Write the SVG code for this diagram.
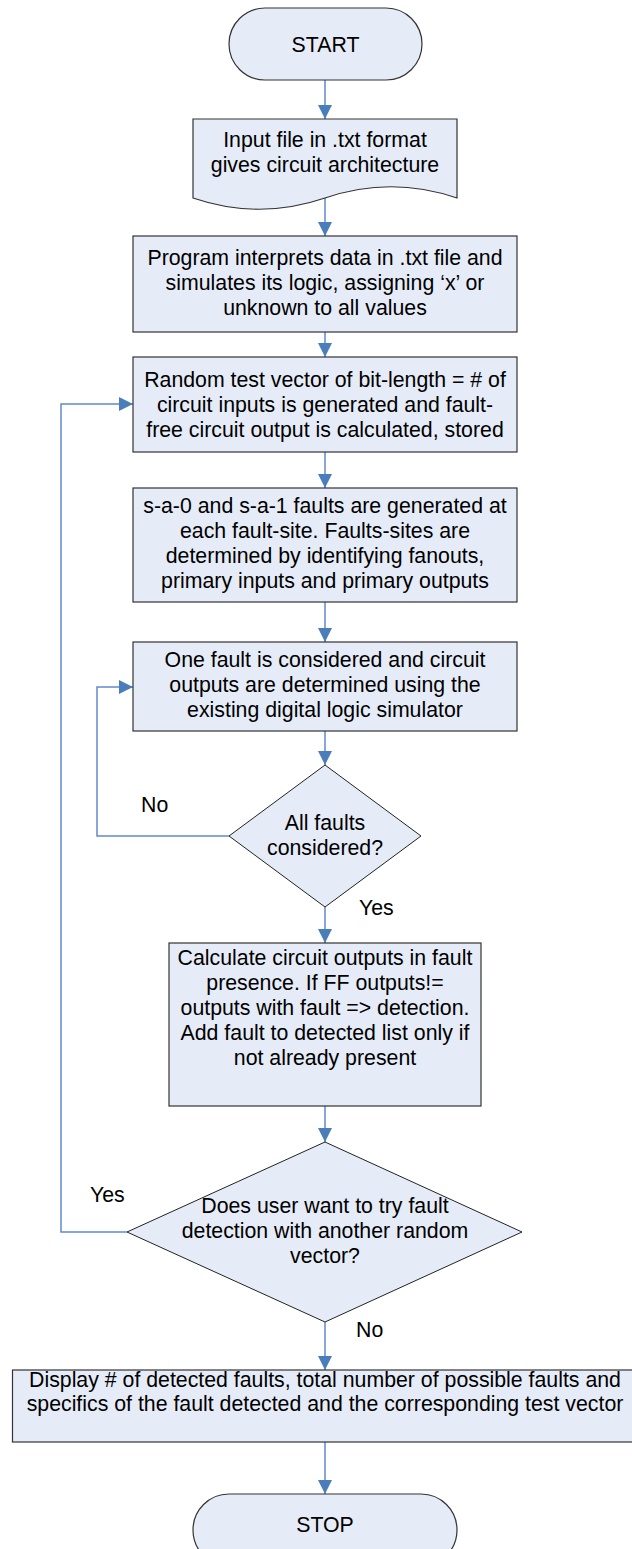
<svg xmlns="http://www.w3.org/2000/svg" width="632" height="1549" viewBox="0 0 632 1549">
<style>
.shape{fill:#E6ECF7;stroke:#333;stroke-width:1.2}
.t{font-family:"Liberation Sans",Arial,sans-serif;font-size:21.3px;fill:#000;text-anchor:middle}
.lbl{font-family:"Liberation Sans",Arial,sans-serif;font-size:21.3px;fill:#000}
.c{fill:none;stroke:#5F8ACB;stroke-width:1.5}
</style>
<defs>
<marker id="ah" markerUnits="userSpaceOnUse" markerWidth="14" markerHeight="14" refX="14" refY="7" orient="auto">
<path d="M0,0 L14,7 L0,14 Z" fill="#4A7EBB"/>
</marker>
</defs>
<rect width="632" height="1549" fill="#fff"/>
<g id="connectors">
<line class="c" x1="325" y1="80" x2="325" y2="119" marker-end="url(#ah)"/>
<line class="c" x1="325" y1="198" x2="325" y2="236" marker-end="url(#ah)"/>
<line class="c" x1="325" y1="332" x2="325" y2="357" marker-end="url(#ah)"/>
<line class="c" x1="325" y1="452" x2="325" y2="488" marker-end="url(#ah)"/>
<line class="c" x1="325" y1="602" x2="325" y2="642" marker-end="url(#ah)"/>
<line class="c" x1="325" y1="731" x2="325" y2="765" marker-end="url(#ah)"/>
<line class="c" x1="325" y1="907" x2="325" y2="943" marker-end="url(#ah)"/>
<line class="c" x1="325" y1="1106" x2="325" y2="1142" marker-end="url(#ah)"/>
<line class="c" x1="325" y1="1322" x2="325" y2="1370" marker-end="url(#ah)"/>
<line class="c" x1="325" y1="1442" x2="325" y2="1494" marker-end="url(#ah)"/>
<polyline class="c" points="229,836 97,836 97,687 133,687" marker-end="url(#ah)"/>
<polyline class="c" points="127,1232 61,1232 61,404 133,404" marker-end="url(#ah)"/>
<text class="lbl" x="141" y="812">No</text>
<text class="lbl" x="359" y="915">Yes</text>
<text class="lbl" x="90" y="1202">Yes</text>
<text class="lbl" x="356" y="1337">No</text>
</g>
<g id="start">
<rect class="shape" x="229" y="8" width="193" height="72" rx="36"/>
<text class="t" x="325.5" y="52">START</text>
</g>
<g id="input">
<path class="shape" d="M193,119 H457 V198 C413,183 369,183 325,198 C281,213 237,213 193,198 Z"/>
<text class="t" x="325" y="147">Input file in .txt format</text>
<text class="t" x="325" y="172">gives circuit architecture</text>
</g>
<g id="interpret">
<rect class="shape" x="133" y="236" width="384" height="96"/>
<text class="t" x="325" y="265">Program interprets data in .txt file and</text>
<text class="t" x="325" y="290">simulates its logic, assigning ‘x’ or</text>
<text class="t" x="325" y="315">unknown to all values</text>
</g>
<g id="random">
<rect class="shape" x="133" y="357" width="384" height="95"/>
<text class="t" x="325" y="387">Random test vector of bit-length = # of</text>
<text class="t" x="325" y="412">circuit inputs is generated and fault-</text>
<text class="t" x="325" y="437">free circuit output is calculated, stored</text>
</g>
<g id="faults">
<rect class="shape" x="133" y="488" width="384" height="114"/>
<text class="t" x="325" y="513">s-a-0 and s-a-1 faults are generated at</text>
<text class="t" x="325" y="538">each fault-site. Faults-sites are</text>
<text class="t" x="325" y="563">determined by identifying fanouts,</text>
<text class="t" x="325" y="588">primary inputs and primary outputs</text>
</g>
<g id="onefault">
<rect class="shape" x="133" y="642" width="384" height="89"/>
<text class="t" x="325" y="667">One fault is considered and circuit</text>
<text class="t" x="325" y="692">outputs are determined using the</text>
<text class="t" x="325" y="717">existing digital logic simulator</text>
</g>
<g id="allfaults">
<polygon class="shape" points="325,765 421,836 325,907 229,836" style="stroke:#222;stroke-width:1"/>
<text class="t" x="325" y="830">All faults</text>
<text class="t" x="325" y="855">considered?</text>
</g>
<g id="calculate">
<rect class="shape" x="169" y="943" width="312" height="163"/>
<text class="t" x="325" y="965">Calculate circuit outputs in fault</text>
<text class="t" x="325" y="990">presence. If FF outputs!=</text>
<text class="t" x="325" y="1015">outputs with fault =&gt; detection.</text>
<text class="t" x="325" y="1040">Add fault to detected list only if</text>
<text class="t" x="325" y="1065">not already present</text>
</g>
<g id="again">
<polygon class="shape" points="325,1142 522,1232 325,1322 127,1232" style="stroke:#222;stroke-width:1"/>
<text class="t" x="325" y="1213">Does user want to try fault</text>
<text class="t" x="325" y="1238">detection with another random</text>
<text class="t" x="325" y="1263">vector?</text>
</g>
<g id="display">
<rect class="shape" x="12.5" y="1370" width="625" height="72"/>
<text class="t" x="325" y="1387">Display # of detected faults, total number of possible faults and</text>
<text class="t" x="325" y="1411">specifics of the fault detected and the corresponding test vector</text>
</g>
<g id="stop">
<rect class="shape" x="193" y="1494" width="264" height="72" rx="36"/>
<text class="t" x="325" y="1532">STOP</text>
</g>
</svg>
